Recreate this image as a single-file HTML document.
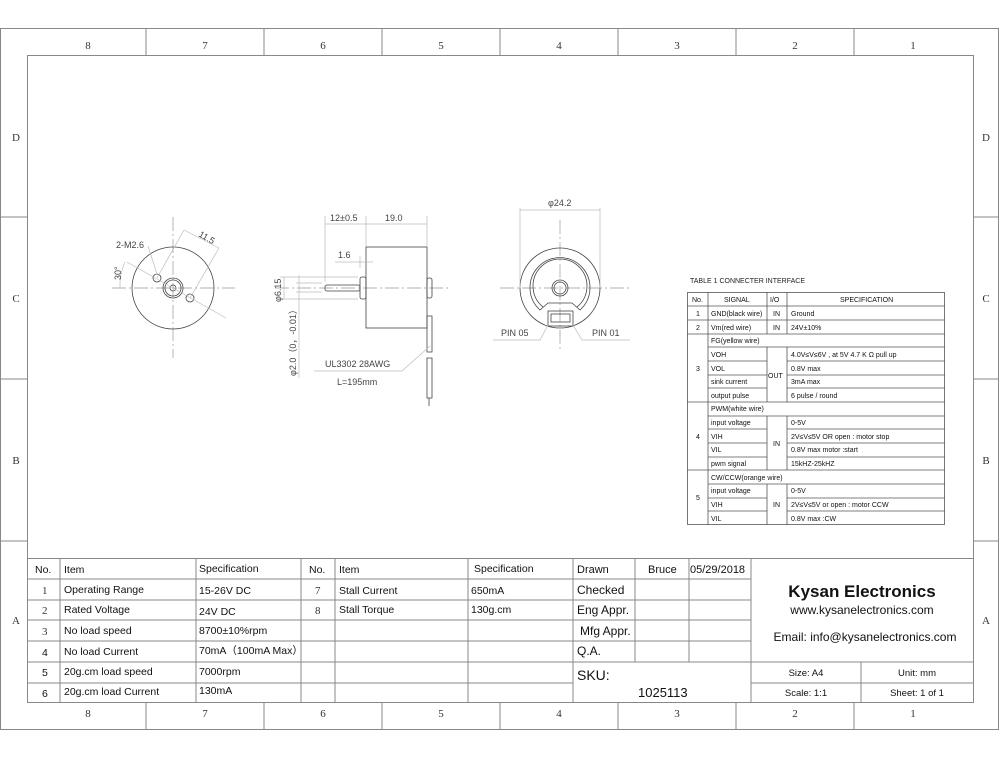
<!DOCTYPE html>
<html><head><meta charset="utf-8"><style>
html,body{margin:0;padding:0;background:#fff}
svg{display:block}
text{font-family:"Liberation Sans",Arial,sans-serif;fill:#111}
.s,.s text{font-family:"Liberation Serif",serif;font-size:11px;fill:#333}
.g{stroke:#888;fill:none;stroke-width:1}
.d{stroke:#444;fill:none;stroke-width:0.8}
.c{stroke:#999;fill:none;stroke-width:0.7;stroke-dasharray:14 3 2 3}
.t{stroke:#555;fill:none;stroke-width:0.8}
.l{stroke:#bbb;fill:none;stroke-width:0.7}
.dim{font-size:9px;fill:#444}
.tb{font-size:7px;fill:#222}
.bt{font-size:10.5px;fill:#111}
</style></head><body>
<svg width="1000" height="758" viewBox="0 0 1000 758" xmlns="http://www.w3.org/2000/svg">
<rect x="0.5" y="28.5" width="998" height="701" class="g"/>
<rect x="27.5" y="55.5" width="946" height="647" class="g"/>
<g class="g">
<line x1="146" y1="28" x2="146" y2="55"/><line x1="264" y1="28" x2="264" y2="55"/><line x1="382" y1="28" x2="382" y2="55"/><line x1="500" y1="28" x2="500" y2="55"/><line x1="618" y1="28" x2="618" y2="55"/><line x1="736" y1="28" x2="736" y2="55"/><line x1="854" y1="28" x2="854" y2="55"/>
<line x1="146" y1="702" x2="146" y2="729"/><line x1="264" y1="702" x2="264" y2="729"/><line x1="382" y1="702" x2="382" y2="729"/><line x1="500" y1="702" x2="500" y2="729"/><line x1="618" y1="702" x2="618" y2="729"/><line x1="736" y1="702" x2="736" y2="729"/><line x1="854" y1="702" x2="854" y2="729"/>
<line x1="0" y1="217" x2="27" y2="217"/><line x1="0" y1="379" x2="27" y2="379"/><line x1="0" y1="541" x2="27" y2="541"/>
<line x1="973" y1="217" x2="999" y2="217"/><line x1="973" y1="379" x2="999" y2="379"/><line x1="973" y1="541" x2="999" y2="541"/>
</g>
<g class="s" text-anchor="middle">
<text x="88" y="49">8</text><text x="205" y="49">7</text><text x="323" y="49">6</text><text x="441" y="49">5</text><text x="559" y="49">4</text><text x="677" y="49">3</text><text x="795" y="49">2</text><text x="913" y="49">1</text>
<text x="88" y="717">8</text><text x="205" y="717">7</text><text x="323" y="717">6</text><text x="441" y="717">5</text><text x="559" y="717">4</text><text x="677" y="717">3</text><text x="795" y="717">2</text><text x="913" y="717">1</text>
<text x="16" y="141">D</text><text x="16" y="302">C</text><text x="16" y="464">B</text><text x="16" y="624">A</text>
<text x="986" y="141">D</text><text x="986" y="302">C</text><text x="986" y="464">B</text><text x="986" y="624">A</text>
</g>

<line x1="112" y1="288" x2="235" y2="288" class="c"/>
<line x1="173" y1="217" x2="173" y2="358" class="c"/>
<circle cx="173" cy="288" r="41" class="d"/>
<circle cx="173" cy="288" r="10" class="d"/><circle cx="173" cy="288" r="8" class="d"/><circle cx="173" cy="288" r="3" class="d"/>
<circle cx="157" cy="278" r="4" class="d"/><circle cx="190" cy="298" r="4" class="d"/>
<line x1="127" y1="262" x2="226" y2="318" class="l"/>
<line x1="157" y1="278" x2="184" y2="230" class="l"/><line x1="190" y1="298" x2="219" y2="248" class="l"/>
<line x1="184" y1="230" x2="219" y2="248" class="l"/>
<line x1="148" y1="246" x2="157" y2="274" class="l"/>
<path d="M120 288 A 55 55 0 0 1 125 262" class="l"/>
<text x="116" y="248" class="dim">2-M2.6</text>
<text x="198" y="236" class="dim" transform="rotate(30 198 236)">11.5</text>
<text x="121" y="280" class="dim" transform="rotate(-90 121 280)">30°</text>

<line x1="275" y1="288" x2="450" y2="288" class="c"/>
<rect x="366" y="247" width="61" height="81" class="d"/>
<rect x="325" y="285" width="35" height="6" rx="2" class="d"/>
<rect x="360" y="277" width="6" height="22" rx="2" class="d"/>
<rect x="427" y="278" width="5" height="20" rx="2" class="d"/>
<path d="M427 316 H432 V352 H427 Z M427 358 H432 V398 H427 Z" class="d"/>
<line x1="429" y1="398" x2="429" y2="406" class="d"/>
<line x1="325" y1="216" x2="325" y2="282" class="l"/><line x1="366" y1="216" x2="366" y2="247" class="l"/><line x1="427" y1="216" x2="427" y2="247" class="l"/>
<line x1="325" y1="224" x2="427" y2="224" class="l"/>
<text x="330" y="221" class="dim">12±0.5</text><text x="385" y="221" class="dim">19.0</text>
<line x1="335" y1="262" x2="373" y2="262" class="l"/><line x1="360" y1="256" x2="360" y2="268" class="l"/>
<text x="338" y="258" class="dim">1.6</text>
<line x1="280" y1="277" x2="358" y2="277" class="l"/><line x1="280" y1="299" x2="358" y2="299" class="l"/>
<line x1="284" y1="277" x2="284" y2="299" class="l"/>
<line x1="296" y1="283" x2="322" y2="283" class="l"/><line x1="296" y1="292" x2="322" y2="292" class="l"/>
<line x1="299" y1="275" x2="299" y2="378" class="l"/>
<text x="281" y="302" class="dim" transform="rotate(-90 281 302)">φ6.15</text>
<text x="296" y="376" class="dim" transform="rotate(-90 296 376)">φ2.0（0，-0.01）</text>
<path d="M430 346 L402 371 H314" class="l"/>
<text x="325" y="367" class="dim">UL3302 28AWG</text>
<text x="337" y="385" class="dim">L=195mm</text>

<line x1="500" y1="288" x2="630" y2="288" class="c"/>
<line x1="560" y1="220" x2="560" y2="350" class="c"/>
<circle cx="560" cy="288" r="40" class="d"/>
<path d="M540 310 A 30 30 0 1 1 580 310 L572 303 H548 Z" class="d"/>
<path d="M543 307 A 27 27 0 1 1 577 307" class="d"/>
<circle cx="560" cy="288" r="8" class="d"/><circle cx="560" cy="288" r="6" class="d"/>
<rect x="548" y="311" width="25" height="15" class="d"/><rect x="551" y="314" width="19" height="8" class="d"/>
<line x1="520" y1="208" x2="520" y2="288" class="l"/><line x1="600" y1="208" x2="600" y2="288" class="l"/>
<line x1="520" y1="210" x2="600" y2="210" class="l"/>
<text x="548" y="206" class="dim">φ24.2</text>
<path d="M548 325 L540 340 H493" class="l"/><path d="M573 325 L582 340 H630" class="l"/>
<text x="501" y="336" class="dim">PIN 05</text><text x="592" y="336" class="dim">PIN 01</text>

<text x="690" y="283" class="tb">TABLE 1 CONNECTER INTERFACE</text>
<g class="t">
<rect x="687.5" y="292.5" width="257" height="232"/>
<line x1="708" y1="292" x2="708" y2="525"/>
<line x1="767" y1="292" x2="767" y2="334"/><line x1="787" y1="292" x2="787" y2="334"/>
<line x1="767" y1="347" x2="767" y2="402"/><line x1="787" y1="347" x2="787" y2="402"/>
<line x1="767" y1="416" x2="767" y2="470"/><line x1="787" y1="416" x2="787" y2="470"/>
<line x1="767" y1="484" x2="767" y2="525"/><line x1="787" y1="484" x2="787" y2="525"/>
<line x1="687" y1="306" x2="945" y2="306"/><line x1="687" y1="320" x2="945" y2="320"/><line x1="687" y1="334" x2="945" y2="334"/>
<line x1="708" y1="347" x2="945" y2="347"/><line x1="708" y1="361" x2="767" y2="361"/><line x1="787" y1="361" x2="945" y2="361"/>
<line x1="708" y1="375" x2="767" y2="375"/><line x1="787" y1="375" x2="945" y2="375"/>
<line x1="708" y1="388" x2="767" y2="388"/><line x1="787" y1="388" x2="945" y2="388"/>
<line x1="687" y1="402" x2="945" y2="402"/>
<line x1="708" y1="416" x2="945" y2="416"/><line x1="708" y1="429" x2="767" y2="429"/><line x1="787" y1="429" x2="945" y2="429"/>
<line x1="708" y1="443" x2="767" y2="443"/><line x1="787" y1="443" x2="945" y2="443"/>
<line x1="708" y1="457" x2="767" y2="457"/><line x1="787" y1="457" x2="945" y2="457"/>
<line x1="687" y1="470" x2="945" y2="470"/>
<line x1="708" y1="484" x2="945" y2="484"/><line x1="708" y1="498" x2="767" y2="498"/><line x1="787" y1="498" x2="945" y2="498"/>
<line x1="708" y1="511" x2="767" y2="511"/><line x1="787" y1="511" x2="945" y2="511"/>
</g>
<g class="tb">
<text x="692" y="302">No.</text><text x="724" y="302">SIGNAL</text><text x="770" y="302">I/O</text><text x="840" y="302">SPECIFICATION</text>
<text x="696" y="316">1</text><text x="711" y="316">GND(black wire)</text><text x="773" y="316">IN</text><text x="791" y="316">Ground</text>
<text x="696" y="330">2</text><text x="711" y="330">Vm(red wire)</text><text x="773" y="330">IN</text><text x="791" y="330">24V±10%</text>
<text x="711" y="343">FG(yellow wire)</text>
<text x="696" y="371">3</text><text x="768" y="378">OUT</text>
<text x="711" y="357">VOH</text><text x="791" y="357">4.0V≤V≤6V , at 5V 4.7 K Ω pull up</text>
<text x="711" y="371">VOL</text><text x="791" y="371">0.8V max</text>
<text x="711" y="384">sink current</text><text x="791" y="384">3mA max</text>
<text x="711" y="398">output pulse</text><text x="791" y="398">6 pulse / round</text>
<text x="711" y="411">PWM(white wire)</text>
<text x="696" y="439">4</text><text x="773" y="446">IN</text>
<text x="711" y="425">input voltage</text><text x="791" y="425">0-5V</text>
<text x="711" y="439">VIH</text><text x="791" y="439">2V≤V≤5V OR open : motor stop</text>
<text x="711" y="452">VIL</text><text x="791" y="452">0.8V max motor :start</text>
<text x="711" y="466">pwm signal</text><text x="791" y="466">15kHZ-25kHZ</text>
<text x="711" y="480">CW/CCW(orange wire)</text>
<text x="696" y="500">5</text><text x="773" y="507">IN</text>
<text x="711" y="493">input voltage</text><text x="791" y="493">0-5V</text>
<text x="711" y="507">VIH</text><text x="791" y="507">2V≤V≤5V or open : motor CCW</text>
<text x="711" y="521">VIL</text><text x="791" y="521">0.8V max :CW</text>
</g>

<g class="g" stroke="#777">
<line x1="27" y1="558.5" x2="973" y2="558.5"/>
<line x1="27" y1="579" x2="751" y2="579"/><line x1="27" y1="600" x2="751" y2="600"/><line x1="27" y1="620" x2="751" y2="620"/><line x1="27" y1="641" x2="751" y2="641"/>
<line x1="27" y1="662" x2="973" y2="662"/><line x1="27" y1="683" x2="573" y2="683"/><line x1="751" y1="683" x2="973" y2="683"/>
<line x1="60" y1="558" x2="60" y2="702"/><line x1="196" y1="558" x2="196" y2="702"/><line x1="301" y1="558" x2="301" y2="702"/><line x1="335" y1="558" x2="335" y2="702"/><line x1="468" y1="558" x2="468" y2="702"/>
<line x1="573" y1="558" x2="573" y2="702"/><line x1="635" y1="558" x2="635" y2="662"/><line x1="689" y1="558" x2="689" y2="662"/><line x1="751" y1="558" x2="751" y2="702"/><line x1="861" y1="662" x2="861" y2="702"/>
</g>
<g class="bt">
<text x="35" y="573">No.</text><text x="64" y="573">Item</text><text x="199" y="572">Specification</text><text x="309" y="573">No.</text><text x="339" y="573">Item</text><text x="474" y="572">Specification</text>
<text x="42" y="594" class="s" font-size="10">1</text><text x="64" y="593">Operating Range</text><text x="199" y="594">15-26V DC</text><text x="315" y="594" class="s">7</text><text x="339" y="594">Stall Current</text><text x="471" y="594">650mA</text>
<text x="42" y="614" class="s">2</text><text x="64" y="613">Rated Voltage</text><text x="199" y="615">24V DC</text><text x="315" y="614" class="s">8</text><text x="339" y="613">Stall Torque</text><text x="471" y="613">130g.cm</text>
<text x="42" y="635" class="s">3</text><text x="64" y="634">No load speed</text><text x="199" y="634">8700±10%rpm</text>
<text x="42" y="656">4</text><text x="64" y="655">No load Current</text><text x="199" y="654">70mA（100mA Max）</text>
<text x="42" y="676">5</text><text x="64" y="675">20g.cm load speed</text><text x="199" y="675">7000rpm</text>
<text x="42" y="697">6</text><text x="64" y="695">20g.cm load Current</text><text x="199" y="694">130mA</text>
<text x="577" y="573" font-size="11">Drawn</text><text x="648" y="573" font-size="11">Bruce</text><text x="690" y="573" font-size="11">05/29/2018</text>
<text x="577" y="594" font-size="12">Checked</text><text x="577" y="614" font-size="12">Eng Appr.</text><text x="580" y="635" font-size="12">Mfg Appr.</text><text x="577" y="655" font-size="12">Q.A.</text>
<text x="577" y="680" font-size="14">SKU:</text><text x="638" y="697" font-size="13">1025113</text>
<text x="862" y="597" font-size="17" font-weight="bold" text-anchor="middle">Kysan Electronics</text>
<text x="862" y="614" font-size="12" text-anchor="middle">www.kysanelectronics.com</text>
<text x="865" y="641" font-size="12" text-anchor="middle">Email: info@kysanelectronics.com</text>
<text x="806" y="676" font-size="9.5" text-anchor="middle">Size: A4</text><text x="917" y="676" font-size="9.5" text-anchor="middle">Unit: mm</text>
<text x="806" y="696" font-size="9.5" text-anchor="middle">Scale: 1:1</text><text x="917" y="696" font-size="9.5" text-anchor="middle">Sheet: 1 of 1</text>
</g>
</svg>
</body></html>
